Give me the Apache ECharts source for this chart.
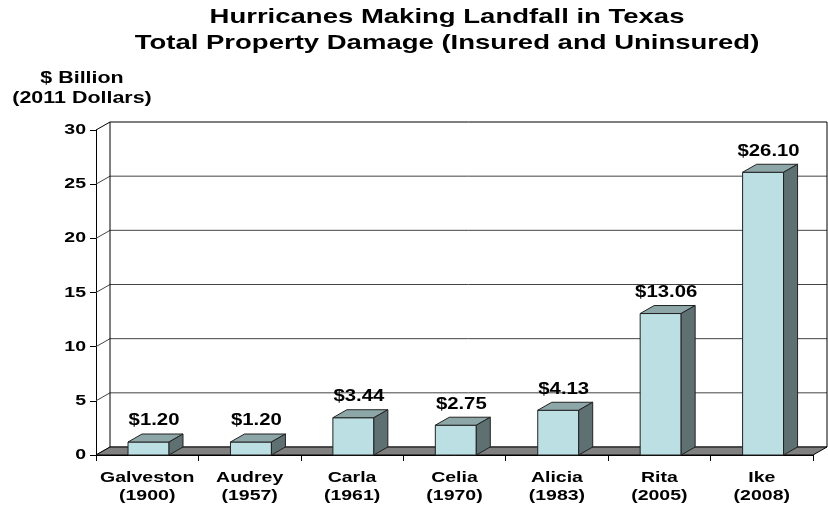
<!DOCTYPE html>
<html>
<head>
<meta charset="utf-8">
<script src="https://cdn.jsdelivr.net/npm/echarts@6/dist/echarts.min.js"></script>
<style>
html,body{margin:0;padding:0;background:#fff;}
#chart{width:828px;height:508px;}
</style>
</head>
<body>
<div id="chart"></div>
<script>
// ---- data ----
const names = ['Galveston', 'Audrey', 'Carla', 'Celia', 'Alicia', 'Rita', 'Ike'];
const years = ['(1900)', '(1957)', '(1961)', '(1970)', '(1983)', '(2005)', '(2008)'];
const damage = [1.20, 1.20, 3.44, 2.75, 4.13, 13.06, 26.10];
const yTicks = [0, 5, 10, 15, 20, 25, 30];
const yTickLabels = ['0', '5', '10', '15', '20', '25', '30'];
const titleLines = ['Hurricanes Making Landfall in Texas', 'Total Property Damage (Insured and Uninsured)'];
const yNameLines = ['$ Billion', '(2011 Dollars)'];

// ---- style ----
const DX = 14, DY = -8;
const FONT = '"Liberation Sans", Arial, Helvetica, sans-serif';
const SX = 1.3;
const FRONT = '#BBDFE2', TOP = '#8DA7A9', SIDE = '#5E7072', EDGE = '#222';

function txt(x, y, text, size, align, valign, extra) {
  const el = {
    type: 'text', x: x, y: y, scaleX: SX,
    style: Object.assign({
      text: text, x: 0, y: 0,
      font: 'bold ' + size + 'px ' + FONT,
      fill: '#000',
      textAlign: align, textVerticalAlign: valign,
      align: align, verticalAlign: valign
    }, extra || {})
  };
  return el;
}

const chart = echarts.init(document.getElementById('chart'), null, {renderer: 'canvas'});

const option = {
  animation: false,
  backgroundColor: '#fff',
  graphic: [
    Object.assign(txt(447, 17, titleLines[0], 21, 'center', 'middle'), {scaleX: 1.31}),
    Object.assign(txt(447, 43, titleLines[1], 21, 'center', 'middle'), {scaleX: 1.31}),
    Object.assign(txt(82, 79, yNameLines[0], 16, 'center', 'middle'), {scaleX: 1.34}),
    Object.assign(txt(82, 99, yNameLines[1], 16, 'center', 'middle'), {scaleX: 1.34})
  ],
  grid: {left: 96, right: 15, top: 130, bottom: 53},
  xAxis: {
    type: 'category', data: names, boundaryGap: true,
    axisLine: {lineStyle: {color: '#000', width: 1}},
    axisTick: {show: true, length: 6, lineStyle: {color: '#000'}},
    axisLabel: {show: false},
    splitLine: {show: false}
  },
  yAxis: {
    type: 'value', min: 0, max: 30, interval: 5,
    axisLine: {show: true, lineStyle: {color: '#000', width: 1}},
    axisTick: {show: true, length: 6, lineStyle: {color: '#000'}},
    axisLabel: {show: false},
    splitLine: {show: false}
  },
  series: [
    { // back wall gridlines + tick labels
      type: 'custom', z: 1, silent: true,
      data: yTicks.map((v, i) => [0, v, i]),
      renderItem: function (params, api) {
        const cs = params.coordSys;
        const v = api.value(1), idx = api.value(2);
        const y = api.coord([0, v])[1];
        const x0 = cs.x, x1 = cs.x + cs.width;
        const col = v === 30 ? '#000' : '#444';
        return {
          type: 'group',
          children: [
            {type: 'line', shape: {x1: x0 + DX, y1: y + DY, x2: x1 + DX, y2: y + DY}, style: {stroke: col, lineWidth: 1}},
            {type: 'line', shape: {x1: x0, y1: y, x2: x0 + DX, y2: y + DY}, style: {stroke: col, lineWidth: 1}},
            txt(x0 - 10, y, yTickLabels[idx], 15, 'right', 'middle')
          ]
        };
      }
    },
    { // walls and floor
      type: 'custom', z: 2, silent: true,
      data: [[0, 0]],
      renderItem: function (params, api) {
        const cs = params.coordSys;
        const x0 = cs.x, x1 = cs.x + cs.width, yT = cs.y, yB = cs.y + cs.height;
        return {
          type: 'group',
          children: [
            {type: 'line', shape: {x1: x0 + DX, y1: yT + DY, x2: x0 + DX, y2: yB + DY}, style: {stroke: '#000', lineWidth: 1}},
            {type: 'line', shape: {x1: x1 + DX, y1: yT + DY, x2: x1 + DX, y2: yB + DY}, style: {stroke: '#000', lineWidth: 1}},
            {type: 'polygon', shape: {points: [[x0, yB], [x1, yB], [x1 + DX, yB + DY], [x0 + DX, yB + DY]]},
              style: {fill: '#808080', stroke: '#000', lineWidth: 1}}
          ]
        };
      }
    },
    { // 3D bars
      type: 'custom', z: 3, silent: true,
      data: damage.map((v, i) => [i, v]),
      renderItem: function (params, api) {
        const i = api.value(0), v = api.value(1);
        const base = api.coord([i, 0]);
        const top = api.coord([i, v]);
        const bw = api.size([1, 0])[0] * 0.40;
        const cx = base[0] + 1.3;
        const xl = cx - bw / 2, xr = cx + bw / 2;
        const yb = base[1], yt = top[1];
        return {
          type: 'group',
          children: [
            {type: 'polygon', shape: {points: [[xl, yb], [xr, yb], [xr, yt], [xl, yt]]}, style: {fill: FRONT, stroke: EDGE, lineWidth: 1}},
            {type: 'polygon', shape: {points: [[xl, yt], [xr, yt], [xr + DX, yt + DY], [xl + DX, yt + DY]]}, style: {fill: TOP, stroke: EDGE, lineWidth: 1}},
            {type: 'polygon', shape: {points: [[xr, yt], [xr + DX, yt + DY], [xr + DX, yb + DY], [xr, yb]]}, style: {fill: SIDE, stroke: EDGE, lineWidth: 1}},
            Object.assign(txt(cx + 5.5, yt + DY - 13, '$' + v.toFixed(2), 16, 'center', 'middle'), {scaleX: 1.27})
          ]
        };
      }
    },
    { // category labels
      type: 'custom', z: 3, silent: true,
      data: names.map((n, i) => [i, 0]),
      renderItem: function (params, api) {
        const i = api.value(0);
        const x = api.coord([i, 0])[0];
        const cs = params.coordSys;
        const y = cs.y + cs.height + 14;
        return txt(x, y, names[i] + '\n' + years[i], 15, 'center', 'top', {lineHeight: 18});
      }
    }
  ]
};
chart.setOption(option);
</script>
</body>
</html>
